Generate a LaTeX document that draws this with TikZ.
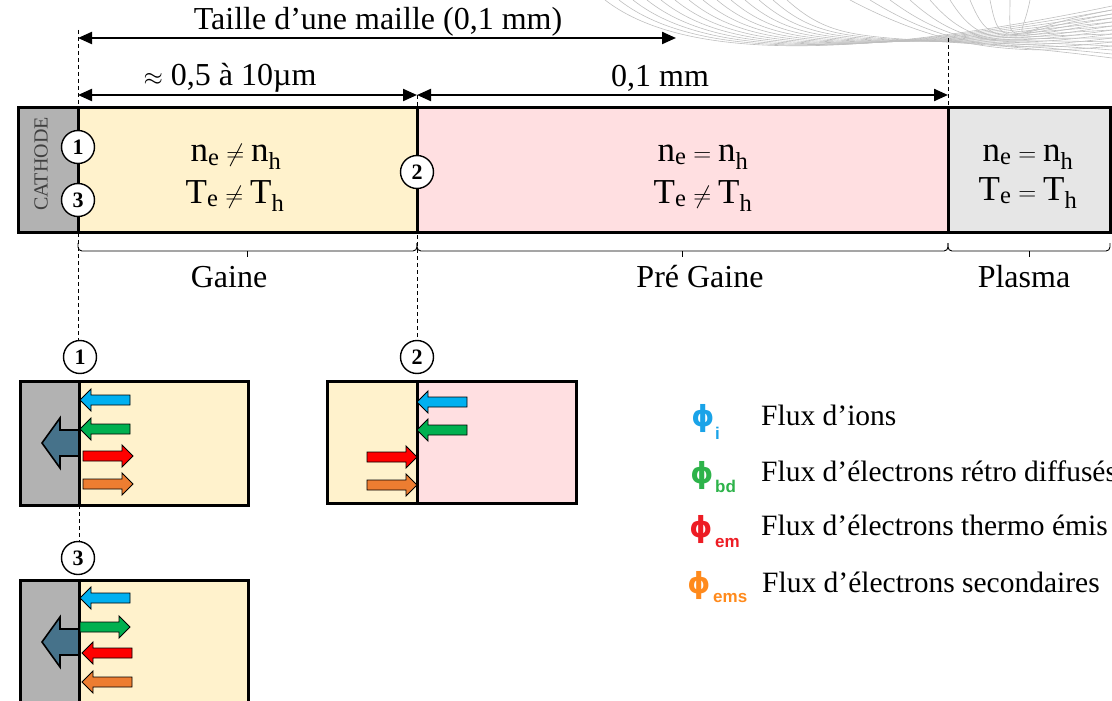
\documentclass[tikz,border=0pt]{standalone}
\usepackage{fontspec}
\setmainfont{Liberation Serif}
\newfontfamily\phifont{DejaVu Sans}
\newfontfamily\subfont{Liberation Sans}
\usetikzlibrary{arrows.meta}

\definecolor{cathgray}{HTML}{B2B2B2}
\definecolor{gainefill}{HTML}{FFF2CC}
\definecolor{pregainefill}{HTML}{FFDFE1}
\definecolor{plasmafill}{HTML}{E6E6E6}
\definecolor{bigarrow}{HTML}{46728A}
\definecolor{fluxblue}{HTML}{00B0F0}
\definecolor{fluxgreen}{HTML}{00B050}
\definecolor{fluxred}{HTML}{FF0000}
\definecolor{fluxorange}{HTML}{ED7D31}
\definecolor{legblue}{HTML}{1AA3E8}
\definecolor{leggreen}{HTML}{2DB34A}
\definecolor{legred}{HTML}{ED1C24}
\definecolor{legorange}{HTML}{FF8A1C}

\tikzset{
  num/.style={circle, draw, line width=1.4pt, fill=white, inner sep=0pt,
    minimum size=33pt, font=\fontsize{22}{22}\selectfont\bfseries},
  zone/.style={line width=3pt},
  dim/.style={line width=2.2pt, {Triangle[length=14pt,width=12pt]}-{Triangle[length=14pt,width=12pt]}},
  guide/.style={line width=0.9pt, dash pattern=on 4pt off 3pt},
  brace/.style={line width=0.9pt, rounded corners=4pt},
  txt/.style={font=\fontsize{32}{38}\selectfont, inner sep=0pt},
  eq/.style={font=\fontsize{35}{40}\selectfont, inner sep=0pt},
  legtxt/.style={font=\fontsize{29.5}{34}\selectfont, inner sep=0pt, anchor=base west},
  phi/.style={font=\phifont\bfseries\fontsize{29}{29}\selectfont, inner sep=0pt},
  phisub/.style={font=\subfont\bfseries\fontsize{17}{17}\selectfont, inner sep=0pt, anchor=west},
  fluxl/.pic={\draw[line width=0.9pt, fill=#1] (0,0) -- (11,-11) -- (11,-5) -- (50,-5)
    -- (50,5) -- (11,5) -- (11,11) -- cycle;},
  fluxr/.pic={\draw[line width=0.9pt, fill=#1] (0,0) -- (-11,-11) -- (-11,-5) -- (-50,-5)
    -- (-50,5) -- (-11,5) -- (-11,11) -- cycle;},
  cathflux/.pic={\draw[line width=1.6pt, fill=bigarrow] (0,0) -- (18,-25) -- (18,-13)
    -- (37,-13) -- (37,13) -- (18,13) -- (18,25) -- cycle;}
}

\begin{document}
\begin{tikzpicture}[x=1pt, y=-1pt]
  \useasboundingbox (0,0) rectangle (1112,701);

  % background lines, top right
  \foreach \i in {0,...,13}
    \draw[black!25, line width=0.6pt] (605+\i*14,0) .. controls (690+\i*12,66-\i)
      and (880,54-\i*2) .. (1112,6+\i*4);
  \foreach \i in {0,...,9}
    \draw[black!25, line width=0.6pt] (850+\i*20,0) .. controls (930+\i*10,42+\i)
      and (1000,58-\i*3) .. (1112,46-\i*4);

  % guide lines
  \draw[guide] (78,30) -- (78,340);
  \draw[guide] (79,505) -- (79,541);
  \draw[guide] (417,95) -- (417,340);
  \draw[guide] (948,38) -- (948,108);

  % the mesh cell
  \fill[cathgray] (18,108) rectangle (78,232);
  \fill[gainefill] (78,108) rectangle (417,232);
  \fill[pregainefill] (417,108) rectangle (948,232);
  \fill[plasmafill] (948,108) rectangle (1110,232);
  \draw[zone] (18,108) rectangle (1110,232);
  \draw[zone] (78,108) -- (78,232) (417,108) -- (417,232) (948,108) -- (948,232);
  \node[rotate=90, text=black!75, font=\fontsize{20}{20}\selectfont, inner sep=0pt]
    (cathode) at (41,164) {CATHODE};

  \node[eq] (gaineN) at (236,157) {$\mathrm{n_e}\neq\mathrm{n_h}$};
  \node[eq] (gaineT) at (235,196) {$\mathrm{T_e}\neq\mathrm{T_h}$};
  \node[eq] (preN) at (703,157) {$\mathrm{n_e}=\mathrm{n_h}$};
  \node[eq] (preT) at (703,196) {$\mathrm{T_e}\neq\mathrm{T_h}$};
  \node[eq] (plasmaN) at (1028,157) {$\mathrm{n_e}=\mathrm{n_h}$};
  \node[eq] (plasmaT) at (1028,193) {$\mathrm{T_e}=\mathrm{T_h}$};

  \node[num] (c1) at (78,147) {1};
  \node[num] (c3) at (78,200) {3};
  \node[num] (c2) at (417,172) {2};

  % dimensions
  \coordinate (tailleL) at (78,38);
  \coordinate (tailleR) at (676,38);
  \coordinate (gaineL) at (78,95);
  \coordinate (gaineR) at (417,95);
  \coordinate (preR) at (948,95);
  \draw[dim] (tailleL) -- (tailleR);
  \draw[dim] (gaineL) -- (gaineR);
  \draw[dim] (gaineR) -- (preR);
  \node[txt] (taille) at (378,22) {Taille d’une maille (0,1 mm)};
  \node[txt] (approx) at (230,78) {$\approx$ 0,5 à 10µm};
  \node[txt] (dixieme) at (660,78) {0,1 mm};

  % zones under the cell
  \draw[brace] (78,243) |- (417,251) -- (417,243);
  \draw[brace] (417,243) |- (948,251) -- (948,243);
  \draw[brace] (948,243) |- (1110,251) -- (1110,243);
  \draw[line width=0.9pt] (247.5,251) -- (247.5,257) (682.5,251) -- (682.5,257)
    (1029,251) -- (1029,257);
  \node[txt] (gaine) at (229,277) {Gaine};
  \node[txt] (pregaine) at (700,277) {Pré Gaine};
  \node[txt] (plasma) at (1024,277) {Plasma};

  % detail 1
  \fill[cathgray] (20,381) rectangle (79,505);
  \fill[gainefill] (79,381) rectangle (248,505);
  \draw[zone] (20,381) rectangle (248,505);
  \draw[zone] (79,381) -- (79,505);
  \pic at (42,443) {cathflux};
  \pic at (80,400) {fluxl=fluxblue};
  \pic at (80,429) {fluxl=fluxgreen};
  \pic at (133,456) {fluxr=fluxred};
  \pic at (133,484) {fluxr=fluxorange};
  \node[num] (d1) at (80,357) {1};

  % detail 2
  \fill[gainefill] (327,381) rectangle (417,503);
  \fill[pregainefill] (417,381) rectangle (576,503);
  \draw[zone] (327,381) rectangle (576,503);
  \draw[zone] (417,381) -- (417,503);
  \pic at (417,402) {fluxl=fluxblue};
  \pic at (417,430) {fluxl=fluxgreen};
  \pic at (417,457) {fluxr=fluxred};
  \pic at (417,485) {fluxr=fluxorange};
  \node[num] (d2) at (417,357) {2};

  % detail 3
  \fill[cathgray] (20,580) rectangle (79,701);
  \fill[gainefill] (79,580) rectangle (248,701);
  \draw[zone] (20,701) |- (248,580) -- (248,701);
  \draw[zone] (79,580) -- (79,701);
  \pic at (42,642) {cathflux};
  \pic at (80,598) {fluxl=fluxblue};
  \pic at (130,627) {fluxr=fluxgreen};
  \pic at (82,653) {fluxl=fluxred};
  \pic at (82,682) {fluxl=fluxorange};
  \node[num] (d3) at (78,558) {3};

  % legend
  \node[phi, text=legblue] (phiI) at (703,418) {ϕ};
  \node[phisub, text=legblue] (subI) at (715,433) {i};
  \node[phi, text=leggreen] (phiBd) at (702,475) {ϕ};
  \node[phisub, text=leggreen] (subBd) at (715,486) {bd};
  \node[phi, text=legred] (phiEm) at (701,529) {ϕ};
  \node[phisub, text=legred] (subEm) at (715,543) {em};
  \node[phi, text=legorange] (phiEms) at (699,585) {ϕ};
  \node[phisub, text=legorange] (subEms) at (713,598) {ems};
  \node[legtxt] (legI) at (761,425) {Flux d’ions};
  \node[legtxt] (legBd) at (761,481) {Flux d’électrons rétro diffusés};
  \node[legtxt] (legEm) at (761,535) {Flux d’électrons thermo émis};
  \node[legtxt] (legEms) at (762,592) {Flux d’électrons secondaires};
\end{tikzpicture}
\end{document}
